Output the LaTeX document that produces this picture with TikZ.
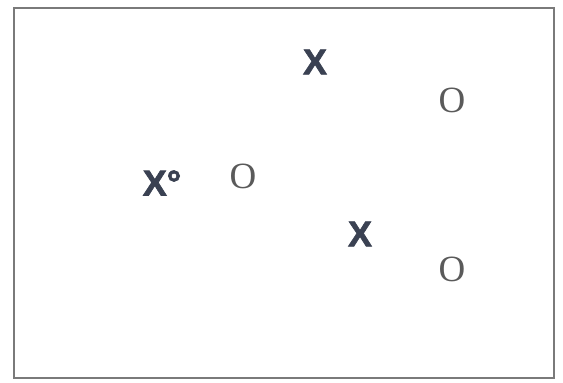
\documentclass[tikz,border=0pt]{standalone}
\usepackage{fontspec}
\newfontfamily\xfont{Liberation Sans Bold}[FakeBold=1.8]
\newfontfamily\ofont{Liberation Serif}
\definecolor{xcol}{HTML}{3A4152}
\definecolor{ocol}{HTML}{5A5A5A}
\definecolor{framecol}{HTML}{7A7A7A}
\begin{document}
\begin{tikzpicture}[x=1pt,y=-1pt,
  xmark/.style={inner sep=0pt, text=xcol, font=\xfont\fontsize{36}{40}\selectfont},
  omark/.style={inner sep=0pt, text=ocol, font=\ofont\fontsize{37}{40}\selectfont}]
\useasboundingbox (0,0) rectangle (563,383);
\fill[white] (0,0) rectangle (563,383);
\draw[framecol, line width=1.3pt] (14,8) rectangle (554,378);
\node[xmark] (x1) at (315,62) {X};
\node[omark] (o1) at (452,100) {O};
\node[xmark] (x0) at (162,183) {X°};
\node[omark] (o0) at (243,176) {O};
\node[xmark] (x2) at (360,234) {X};
\node[omark] (o2) at (452,269) {O};
\end{tikzpicture}
\end{document}
